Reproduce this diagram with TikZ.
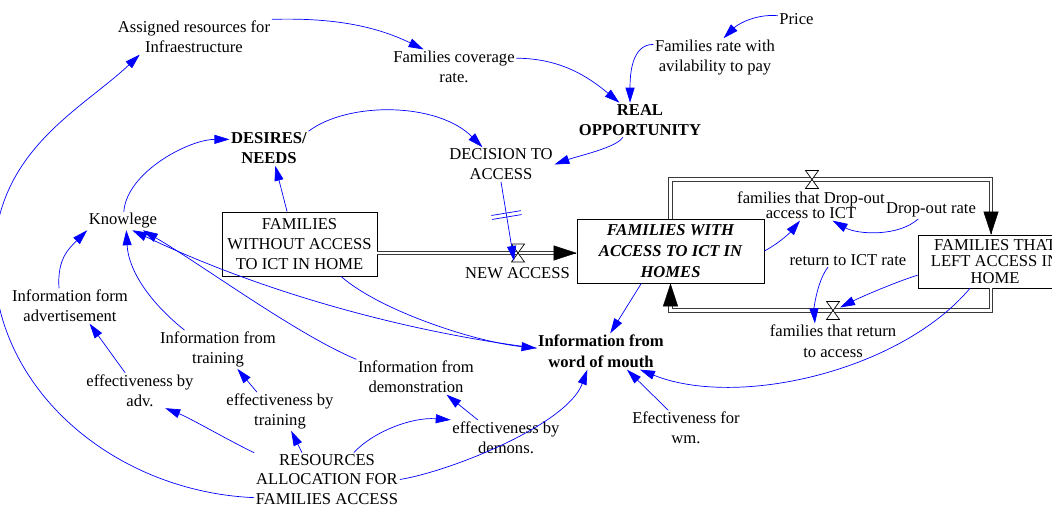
\documentclass[tikz,border=0pt]{standalone}
\usepackage{fontspec}
\setmainfont{Liberation Serif}
\usetikzlibrary{arrows.meta,decorations.markings}
\definecolor{linkblue}{RGB}{0,0,255}
\definecolor{pipegrey}{HTML}{3A3A3A}
\newcommand{\varfont}{\fontsize{16.6}{20}\selectfont}
\tikzset{var/.style={inner sep=1.5pt,align=center,font=\varfont},
  stock/.style={draw,fill=white,line width=0.8pt,inner sep=0pt,align=center,font=\varfont},
  link/.style={linkblue,line width=0.7pt,-{Triangle[length=15pt,width=9pt]}},
  delay/.style={postaction={decorate},decoration={markings,
    mark=at position #1 with {\draw[-] (-2,-15) -- (-2,15) (2,-15) -- (2,15);}}},
  pipe/.style={draw=pipegrey,line width=0.9pt,double=white,double distance=2.4pt},
  pipetip/.style={black,line width=0.4pt,-{Triangle[length=23pt,width=15pt]}},
  valve/.pic={\draw[fill=white,line width=0.7pt] (-6.5,9) -- (6.5,9) -- (-6.5,-9) -- (6.5,-9) -- cycle;}}

\begin{document}
\begin{tikzpicture}[x=1pt,y=1pt]
\useasboundingbox (0,0) rectangle (1052,506);
\clip (0,0) rectangle (1052,506);
% Bestaende (stocks) und Variablen, Koordinaten in Pixeln des Vorbilds
\node[stock,minimum width=155pt,minimum height=64pt] (without) at (299.5,262) {FAMILIES\\WITHOUT ACCESS\\TO ICT IN HOME};
\node[stock,minimum width=187pt,minimum height=64pt,font={\fontsize{16.6}{21}\selectfont\bfseries\itshape}] (with) at (670.5,255) {FAMILIES WITH\\ACCESS TO ICT IN\\HOMES};
\node[stock,minimum width=154pt,minimum height=53pt,font={\fontsize{16.6}{16.5}\selectfont}] (leftbox) at (995,244.5) {FAMILIES THAT\\LEFT ACCESS IN\\HOME};
\node[var] (assigned) at (194,469) {Assigned resources for\\Infraestructure};
\node[var] (coverage) at (454,439) {Families coverage\\rate.};
\node[var] (price) at (796.5,487) {Price};
\node[var] (payrate) at (715,448.5) {Families rate with\\avilability to pay};
\node[var,font=\varfont\bfseries] (realopp) at (640,386) {REAL\\OPPORTUNITY};
\node[var,font=\varfont\bfseries] (desires) at (269,357.5) {DESIRES/\\NEEDS};
\node[var] (decision) at (501,341.5) {DECISION TO\\ACCESS};
\node[var] (knowlege) at (123,285) {Knowlege};
\node[var] (newlabel) at (517.5,233) {NEW ACCESS};
\node[var,font={\fontsize{16.6}{15}\selectfont}] (dropflow) at (811,300.5) {families that Drop-out\\access to ICT};
\node[var] (droprate) at (931,296) {Drop-out rate};
\node[var,font={\fontsize{16.6}{21}\selectfont}] (retflow) at (833,164.5) {families that return\\to access};
\node[var] (retrate) at (848,246) {return to ICT rate};
\node[var,font={\fontsize{16.6}{21}\selectfont\bfseries}] (wom) at (601,154.5) {Information from\\word of mouth};
\node[var] (effwm) at (686,78) {Efectiveness for\\wm.};
\node[var] (infodemo) at (416,129) {Information from\\demonstration};
\node[var] (effdemo) at (506,68.5) {effectiveness by\\demons.};
\node[var,font={\fontsize{16.6}{19.5}\selectfont}] (resources) at (327,26.5) {RESOURCES\\ALLOCATION FOR\\FAMILIES ACCESS};
\node[var] (efftrain) at (280,94.5) {effectiveness by\\training};
\node[var] (effadv) at (140,115.5) {effectiveness by\\adv.};
\node[var] (infotrain) at (218,156.5) {Information from\\training};
\node[var] (infoadv) at (70,200) {Information form\\advertisement};
% Fluesse mit Ventilen
\coordinate (newvalve) at (518,253);
\coordinate (dropvalve) at (812,326.5);
\coordinate (retvalve) at (833,195.5);
\coordinate (newin) at (with.west |- newvalve);
\coordinate (leftin) at ([xshift=-4pt]leftbox.north);
\coordinate (leftout) at ([xshift=-4pt]leftbox.south);
\draw[pipe,shorten >=21pt] (without.east |- newvalve) -- (newin);
\draw[pipetip] ([xshift=-1pt]newin) -- (newin);
\draw[pipe,shorten >=21pt] (with.north) |- (dropvalve) -| (leftin);
\draw[pipetip] ([yshift=1pt]leftin) -- (leftin);
\draw[pipe,shorten >=20pt] (leftout) |- (retvalve) -| (with.south);
\draw[pipetip] ([yshift=-1pt]with.south) -- (with.south);
\pic at (newvalve) {valve};
\pic at (dropvalve) {valve};
\pic at (retvalve) {valve};
% Wirkungspfeile
\draw[link] (assigned.north east) .. controls +(65,2) and +(-45,22) .. (coverage.150);
\draw[link] (coverage.8) .. controls +(45,0) and +(-30,25) .. (realopp.140);
\draw[link] (payrate.168) .. controls +(-22,0) and +(0,28) .. (realopp.120);
\draw[link] (price.170) .. controls +(-25,2) and +(12,12) .. (payrate.66);
\draw[link] (realopp.225) .. controls +(-5,-10) and +(22,8) .. (decision.east);
\draw[link] (desires.north east) .. controls +(40,30) and +(-45,45) .. (decision.137);
\draw[link] (knowlege.85) .. controls +(3,40) and +(-40,0) .. (desires.167);
\draw[link] (without.111) -- (desires.290);
\draw[link,delay=0.42] (decision.south) -- ([shift={(-4pt,-8pt)}]newvalve);
\draw[link] (with.east) .. controls +(15,8) and +(-10,-12) .. (dropflow.234);
\draw[link] (droprate.215) .. controls +(-20,-18) and +(25,-14) .. (dropflow.325);
\draw[link] (retrate.200) .. controls +(-10,-12) and +(-1,16) .. (retflow.135);
\draw[link] (leftbox.190) .. controls +(-25,-8) and +(20,10) .. ([shift={(7pt,3pt)}]retvalve);
\draw[link] (leftbox.227) .. controls +(-70,-83) and +(97,-39) .. (wom.335);
\draw[link] (effwm.135) -- (wom.325);
\draw[link] (with.228) -- (wom.63);
\draw[link] (without.322) .. controls +(40,-35) and +(-60,6) .. (wom.177);
\draw[link] (wom.177) .. controls +(-130,16) and +(130,-62) .. (knowlege.315);
\draw[link] (infodemo.north west) .. controls +(-60,25) and +(60,-35) .. (knowlege.335);
\draw[link] (infotrain.150) .. controls +(-35,28) and +(2,-40) .. (knowlege.290);
\draw[link] (infoadv.122) .. controls +(-2,30) and +(-18,-18) .. (knowlege.south west);
\draw[link] (effadv.130) -- (infoadv.318);
\draw[link] (efftrain.140) -- (infotrain.315);
\draw[link] (resources.north west) .. controls +(-25,12) and +(25,-10) .. (effadv.325);
\draw[link] (resources.133) -- (efftrain.300);
\draw[link] (resources.45) .. controls +(18,20) and +(-40,3) .. (effdemo.north west);
\draw[link] (effdemo.148) -- (infodemo.330);
\draw[link] (resources.east) .. controls +(50,8) and +(-20,-55) .. (wom.233);
% grosser Bogen links, laeuft ueber den Bildrand hinaus
\coordinate (leftbend) at (-6,245);
\draw[link] (resources.194) .. controls +(-140,6) and +(0,-128) .. (leftbend)
  .. controls +(0,110) and +(-58,-55) .. (assigned.198);
\end{tikzpicture}
\end{document}
